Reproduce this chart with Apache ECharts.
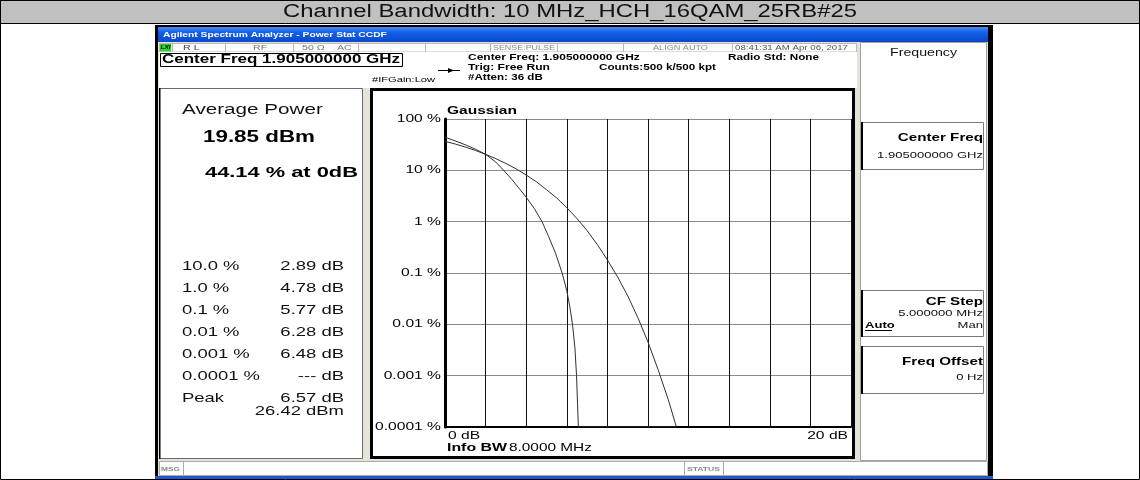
<!DOCTYPE html>
<html><head><meta charset="utf-8">
<script src="https://cdn.jsdelivr.net/npm/echarts@6/dist/echarts.min.js"></script>
<style>html,body{margin:0;padding:0;background:#fff}#c{width:1140px;height:480px}</style>
</head><body><div id="c"></div>
<script>
// ---------------- data ----------------
const titleText = 'Channel Bandwidth: 10 MHz_HCH_16QAM_25RB#25';
const xTickValues = [0, 20];
const xTickLabels = ['0 dB', '20 dB'];
const yTickValues = [100, 10, 1, 0.1, 0.01, 0.001, 0.0001];
const yTickLabels = ['100 %', '10 %', '1 %', '0.1 %', '0.01 %', '0.001 %', '0.0001 %'];
const gaussDb  = [0, 0.5, 1, 1.5, 2, 2.5, 3, 3.5, 4, 4.5, 5, 5.5, 6, 6.5, 7, 7.5, 8, 8.5, 9, 9.5, 10, 10.5, 11, 11.4];
const gaussPct = [36.8, 32.6, 28.4, 24.4, 20.5, 16.9, 13.6, 10.7, 8.1, 6.0, 4.2, 2.9, 1.87, 1.15, 0.67, 0.36, 0.18, 0.084, 0.036, 0.0135, 0.0045, 0.0013, 0.00034, 0.0001];
const measDb   = [0, 0.5, 1, 1.5, 2, 2.5, 2.89, 3.3, 3.7, 4.0, 4.4, 4.78, 5.1, 5.45, 5.77, 6.0, 6.15, 6.28, 6.4, 6.48, 6.57, 11.4];
const measPct  = [44.14, 37.5, 31.5, 25.8, 20.5, 14.5, 10.0, 6.6, 4.2, 3.0, 1.8, 1.0, 0.52, 0.24, 0.1, 0.045, 0.022, 0.01, 0.0035, 0.001, 0.0001, 0.0001];
const statLevels = ['10.0 %', '1.0 %', '0.1 %', '0.01 %', '0.001 %', '0.0001 %', 'Peak'];
const statValues = ['2.89 dB', '4.78 dB', '5.77 dB', '6.28 dB', '6.48 dB', '--- dB', '6.57 dB'];
const peakPower = '26.42 dBm';
const avgPower = '19.85 dBm';
const pctAt0 = '44.14 % at 0dB';
const traceName = 'Gaussian';
const infoBw = '8.0000 MHz';

// ---------------- helpers ----------------
const K = 1.42;
const FAM = '"Liberation Sans", Arial, Helvetica, sans-serif';
const NARROW = '"Liberation Sans Narrow", "Liberation Sans", Arial, sans-serif';
const mctx = document.createElement('canvas').getContext('2d');
function em(str, bold, italic, fam) {
  mctx.font = (italic ? 'italic ' : '') + (bold ? 'bold ' : '') + '100px ' + fam;
  return mctx.measureText(str).width / 100;
}
function T(str, x, y, o) {
  o = o || {};
  const fam = o.family || FAM, k = o.k || K;
  const e = em(str, o.bold, o.italic, fam);
  let size = o.size, sx = k;
  if (o.w && !size) size = o.w / (e * k);
  else if (o.w && size) sx = o.w / (e * size);
  size = size || 10;
  const al = o.align || 'left';
  return {type: 'text', x: x, y: y, scaleX: sx, z: o.z || 20, silent: true,
    style: {text: str, font: (o.italic ? 'italic ' : '') + (o.bold ? 'bold ' : '') + size.toFixed(2) + 'px ' + fam,
      fill: o.color || '#000', textAlign: al, textVerticalAlign: 'middle', align: al, verticalAlign: 'middle'}};
}
function R(x, y, w, h, fill, stroke, lw, z) {
  return {type: 'rect', z: z == null ? 0 : z, silent: true, shape: {x: x, y: y, width: w, height: h},
    style: {fill: fill || 'none', stroke: stroke || 'none', lineWidth: lw || 0}};
}
function L(x1, y1, x2, y2, c, lw, z) {
  return {type: 'line', z: z == null ? 1 : z, silent: true, shape: {x1: x1, y1: y1, x2: x2, y2: y2},
    style: {stroke: c, lineWidth: lw || 1}};
}

const chart = echarts.init(document.getElementById('c'));
const GRID = {left: 445, top: 119, width: 406, height: 308};

chart.setOption({
  animation: false,
  backgroundColor: '#fff',
  grid: Object.assign({containLabel: false, show: false}, GRID),
  xAxis: {type: 'value', min: 0, max: 20, interval: 2, z: 3,
    axisLine: {show: true, onZero: false, lineStyle: {color: '#000', width: 2}},
    axisTick: {show: false}, axisLabel: {show: false},
    splitLine: {show: true, lineStyle: {color: '#111', width: 1}}},
  yAxis: {type: 'log', logBase: 10, min: 0.0001, max: 100, splitNumber: 6, z: 3,
    axisLine: {show: true, lineStyle: {color: '#000', width: 3}},
    axisTick: {show: false}, axisLabel: {show: false},
    splitLine: {show: true, lineStyle: {color: '#8a8a8a', width: 1}}},
  series: [
    {type: 'line', name: 'Gaussian', z: 4, symbol: 'none', showSymbol: false,
     lineStyle: {color: '#303030', width: 1}, data: gaussDb.map((x, i) => [x, gaussPct[i]])},
    {type: 'line', name: 'Measured', z: 4, symbol: 'none', showSymbol: false,
     lineStyle: {color: '#303030', width: 1}, data: measDb.map((x, i) => [x, measPct[i]])}
  ]
});

const g = [];
// page / title
g.push(R(0.5, 0.5, 1139, 479, '#fff', '#000', 1, -2));
g.push(R(0.5, 0.5, 1139, 23, '#c0c0c0', '#000', 1, -1));
g.push(T(titleText, 570, 12.5, {w: 574, size: 18, align: 'center', family: NARROW, color: '#111'}));
// analyzer window
g.push(R(155, 25, 838, 454, '#000'));
g.push(R(158, 27, 830, 15, new echarts.graphic.LinearGradient(0, 0, 0, 1, [
  {offset: 0, color: '#4a8af5'}, {offset: 0.35, color: '#1460e8'}, {offset: 1, color: '#0a48c8'}]), null, 0, 1));
g.push(T('Agilent Spectrum Analyzer - Power Stat CCDF', 163, 35, {w: 224, bold: true, color: '#fff'}));
g.push(R(158, 42, 830, 434, '#e6e3d8', null, 0, 1));
// status row
g.push(R(159.5, 43.5, 697, 8.5, '#fff', '#b8b8b8', 1, 2));
[172, 225, 293, 358, 425, 490, 557, 623, 732].forEach(x => g.push(L(x + 0.5, 43.5, x + 0.5, 52, '#b8b8b8', 1, 3)));
g.push(R(160, 44, 11, 7.5, '#33cc33', null, 0, 3));
g.push(T('LXI', 160.5, 47.8, {w: 10, bold: true, italic: true}));
g.push(T('R L', 183, 47.8, {size: 7.5, color: '#444'}));
g.push(T('RF', 253, 47.8, {size: 7.5, color: '#777'}));
g.push(T('50 Ω', 302, 47.8, {size: 7.5, color: '#777'}));
g.push(T('AC', 337, 47.8, {size: 7.5, color: '#777'}));
g.push(T('SENSE:PULSE', 493, 47.8, {w: 62, color: '#8a8a8a'}));
g.push(T('ALIGN AUTO', 653, 47.8, {w: 55, color: '#8a8a8a'}));
g.push(T('08:41:31 AM Apr 06, 2017', 735, 47.8, {w: 113, color: '#555'}));
// header area
g.push(R(159, 52, 698, 36, '#fff', null, 0, 2));
g.push(R(160.5, 53.5, 242, 13, '#fff', '#000', 1, 3));
g.push(T('Center Freq 1.905000000 GHz', 162, 60, {w: 238, bold: true}));
g.push(L(438, 70.5, 460, 70.5, '#000', 1, 3));
g.push({type: 'polygon', z: 3, silent: true, shape: {points: [[448, 68], [454, 70.5], [448, 73]]}, style: {fill: '#000'}});
g.push(T('#IFGain:Low', 372, 80, {w: 63}));
g.push(T('Center Freq: 1.905000000 GHz', 468, 57.5, {w: 172, bold: true}));
g.push(T('Trig: Free Run', 468, 67.5, {w: 82, bold: true}));
g.push(T('#Atten: 36 dB', 468, 78, {w: 75, bold: true}));
g.push(T('Counts:500 k/500 kpt', 599, 68, {w: 117, bold: true}));
g.push(T('Radio Std: None', 728, 58, {w: 91, bold: true}));
// softkey panel
g.push(R(860.5, 42.5, 126, 418, '#fff', '#a0a0a0', 1, 2));
g.push(T('Frequency', 923.5, 53.7, {w: 67, align: 'center', color: '#111'}));
[[122, 169], [290, 336], [346, 393]].forEach(k => {
  g.push(R(861.5, k[0] + 0.5, 122, k[1] - k[0], '#fff', '#7a7a7a', 1, 3));
  g.push(R(861, k[0], 2, k[1] - k[0] + 1, '#000', null, 0, 4));
});
g.push(T('Center Freq', 983, 138, {size: 10.7, bold: true, align: 'right'}));
g.push(T('1.905000000 GHz', 983, 155, {size: 9.2, align: 'right', color: '#111'}));
g.push(T('CF Step', 983, 302, {size: 10.7, bold: true, align: 'right'}));
g.push(T('5.000000 MHz', 983, 313, {size: 9.2, align: 'right', color: '#111'}));
g.push(T('Auto', 865, 325, {size: 9.2, bold: true}));
g.push(L(865, 330.5, 892, 330.5, '#000', 1, 5));
g.push(T('Man', 983, 325, {size: 9.2, align: 'right', color: '#111'}));
g.push(T('Freq Offset', 983, 362, {size: 10.7, bold: true, align: 'right'}));
g.push(T('0 Hz', 983, 377, {size: 9.2, align: 'right', color: '#111'}));
// left panel
g.push(R(159.5, 88.5, 203, 370, '#fff', '#6a6a6a', 1, 2));
g.push(R(159, 88, 1.5, 371, '#000', null, 0, 3));
g.push(T('Average Power', 182, 110, {w: 141, color: '#111'}));
g.push(T(avgPower, 203, 138, {w: 112, bold: true}));
g.push(T(pctAt0, 205, 173, {w: 153, bold: true}));
const rowY = [266, 288, 310, 332, 354, 376, 398];
statLevels.forEach((s, i) => {
  g.push(T(s, 182, rowY[i], {size: 13, color: '#111'}));
  g.push(T(statValues[i], 344, rowY[i], {size: 13, align: 'right', color: '#111'}));
});
g.push(T(peakPower, 344, 411, {size: 13, align: 'right', color: '#111'}));
// plot panel
g.push(R(370, 88, 485, 371, '#fff', null, 0, 2));
g.push(R(371.5, 89.5, 482, 368, null, '#000', 3, 15));
g.push(T(traceName, 447, 110.5, {w: 70, bold: true}));
g.push(T('Info BW', 447, 448, {w: 60, bold: true}));
g.push(T(infoBw, 509, 448, {w: 83}));
// axis tick labels through the chart scales
yTickValues.forEach((v, i) => {
  const p = chart.convertToPixel({seriesIndex: 0}, [0, v]);
  g.push(T(yTickLabels[i], p[0] - 4, p[1], {size: 11, align: 'right'}));
});
xTickValues.forEach((v, i) => {
  const p = chart.convertToPixel({seriesIndex: 0}, [v, 0.0001]);
  const first = i === 0;
  g.push(T(xTickLabels[i], first ? p[0] + 3 : p[0] - 3, p[1] + 8.5, {size: 11, align: first ? 'left' : 'right'}));
});
// bottom status bar
g.push(R(159.5, 461.5, 828, 14, '#fff', '#aaa', 1, 2));
g.push(L(183.5, 462, 183.5, 476, '#aaa', 1, 3));
g.push(L(684.5, 462, 684.5, 476, '#aaa', 1, 3));
g.push(L(723.5, 462, 723.5, 476, '#aaa', 1, 3));
g.push(T('MSG', 161, 469, {w: 19, bold: true, color: '#888'}));
g.push(T('STATUS', 687, 469, {w: 33, bold: true, color: '#888'}));
g.push(R(155, 476, 838, 3, '#2456c8', null, 0, 3));

chart.setOption({graphic: {elements: g}});
</script></body></html>
